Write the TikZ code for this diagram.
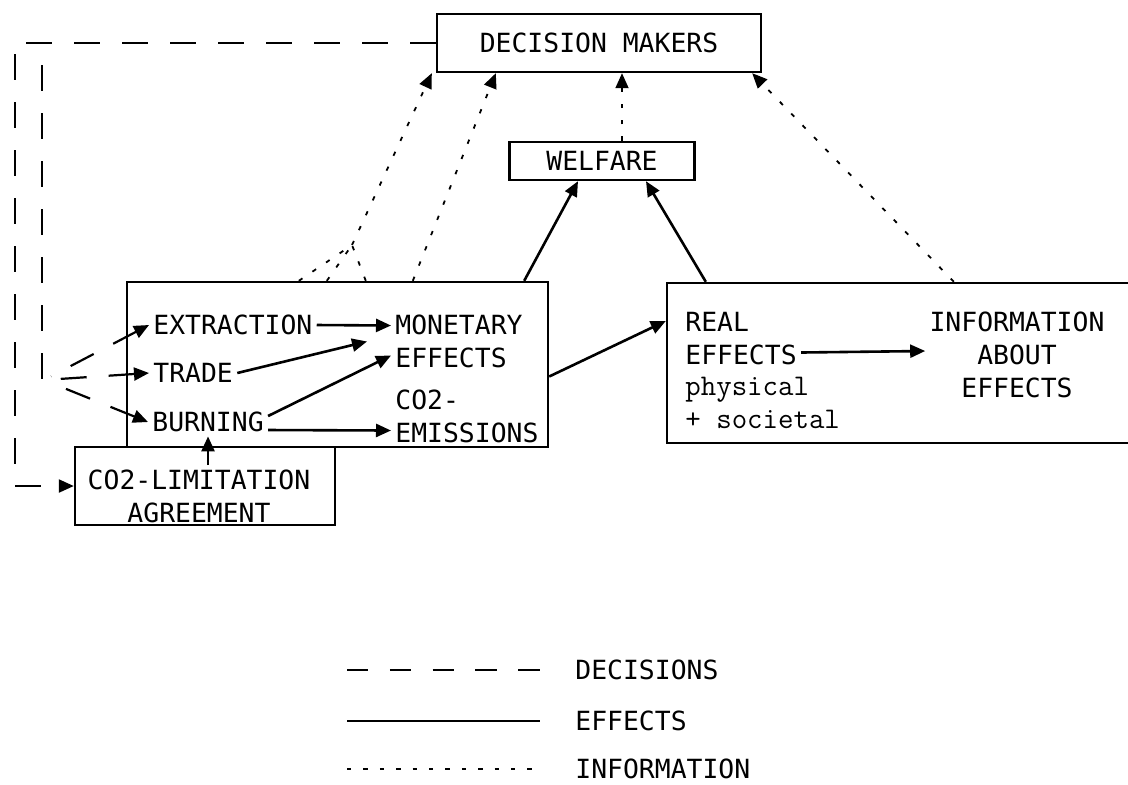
\documentclass[tikz,border=0pt]{standalone}
\usepackage{fontspec}
\usepackage{tikz}
\usetikzlibrary{arrows.meta}
\newfontfamily\printfont{DejaVu Sans Mono}

\begin{document}
\begin{tikzpicture}[x=0.5pt,y=-0.5pt,
		font=\printfont\fontsize{13.2pt}{16.5pt}\selectfont,
		box/.style={draw,line width=1.2pt,inner sep=0pt},
		txt/.style={inner sep=2pt,align=left},
		tip/.style={-{Triangle[length=7.5pt,width=6.5pt]}},
		backtip/.style={{Triangle[length=7.5pt,width=6.5pt]}-},
		effect/.style={line width=1.3pt},
		decision/.style={line width=1.1pt,dash pattern=on 13pt off 11pt},
		info/.style={line width=0.9pt,dash pattern=on 2.2pt off 6pt}]
		\useasboundingbox (0,0) rectangle (1128,784);
		\node[box,minimum width=162pt,minimum height=29pt] (dm) at (599,43) {DECISION MAKERS};
		\node[box,minimum width=92.5pt,minimum height=19pt] (welfare) at (602,161) {WELFARE};
		\node[box,minimum width=210.5pt,minimum height=82.5pt] (firm) at (337.5,364.5) {};
		\node[box,minimum width=130pt,minimum height=39pt] (co2box) at (205,486) {};
		\node[box,minimum width=233.5pt,minimum height=80pt] (realbox) at (900.5,363) {};

		\node[txt,anchor=west] (extraction) at (149,325) {EXTRACTION};
		\node[txt,anchor=west] (trade) at (149,373) {TRADE};
		\node[txt,anchor=west] (burning) at (148,422) {BURNING};
		\node[txt,anchor=west] (money) at (391,341.5) {MONETARY\\EFFECTS};
		\node[txt,anchor=west] (emission) at (391,416.5) {CO2-\\EMISSIONS};
		\node[txt,align=center] (limit) at (199,496) {CO2-LIMITATION\\AGREEMENT};
		\node[txt,anchor=west] (realfx) at (681,338.5) {REAL\\EFFECTS};
		\node[txt,anchor=west,font=\ttfamily\fontsize{15pt}{16.5pt}\selectfont] (kinds) at (681,403) {physical\\+ societal};
		\node[txt,align=center] (infofx) at (1017,355) {INFORMATION\\ABOUT\\EFFECTS};

		\draw[effect,tip] (extraction.east) -- ([yshift=8pt]money.west);
		\draw[effect,tip] (trade.east) -- ([xshift=-12pt]money.west);
		\draw[effect,tip] ([yshift=3pt]burning.east) -- ([yshift=-7pt]money.west);
		\draw[effect,tip] ([yshift=-4pt]burning.east) -- ([yshift=-7pt]emission.west);
		\draw[effect,tip] (burning.south |- limit.north) -- (burning.south);
		\draw[effect,tip] ([yshift=-6pt]firm.east) -- ([yshift=21pt]realbox.west);
		\draw[effect,tip] ([xshift=-12.5pt]firm.north east) -- ([xshift=-12pt]welfare.south);
		\draw[effect,tip] ([xshift=20pt]realbox.north west) -- ([xshift=22pt]welfare.south);
		\draw[effect,tip] ([yshift=-7pt]realfx.east) -- ([yshift=2pt]infofx.west);

		\coordinate (join) at (352,245);
		\draw[info] ([xshift=86.5pt]firm.north west) -- (join) ([xshift=100.5pt]firm.north west) -- (join) ([xshift=120pt]firm.north west) -- (join);
		\draw[info,tip] (join) -- ([xshift=-2pt]dm.south west);
		\draw[info,tip] ([xshift=143.5pt]firm.north west) -- ([xshift=30pt]dm.south west);
		\draw[info,tip] ([xshift=10pt]welfare.north) -- ([xshift=10pt]welfare.north |- dm.south);
		\draw[info,tip] ([xshift=144pt]realbox.north west) -- ([xshift=-5pt]dm.south east);

		\coordinate (corner) at (15,43);
		\coordinate (split) at (42,43);
		\coordinate (fan) at (44,380);
		\draw[decision,tip] (dm.west) -- (corner) |- (co2box.west);
		\draw[decision,dash phase=13pt] (split) |- (fan);
		\draw[decision,backtip,shorten >=4pt] (extraction.west) -- (fan);
		\draw[decision,backtip,shorten >=5pt] (trade.west) -- (fan);
		\draw[decision,backtip,shorten >=4pt] (burning.west) -- (fan);

		\node[anchor=west,inner sep=2pt] (legdec) at (571,670) {DECISIONS};
		\node[anchor=west,inner sep=2pt] (legeff) at (571,721) {EFFECTS};
		\node[anchor=west,inner sep=2pt] (leginf) at (571,769) {INFORMATION};
		\draw[decision,dash pattern=on 10.7pt off 10.7pt] ([xshift=-112pt]legdec.west) -- ([xshift=-15.5pt]legdec.west);
		\draw[effect] ([xshift=-112pt]legeff.west) -- ([xshift=-15.5pt]legeff.west);
		\draw[info] ([xshift=-112pt]leginf.west) -- ([xshift=-15.5pt]leginf.west);
	\end{tikzpicture}
\end{document}
